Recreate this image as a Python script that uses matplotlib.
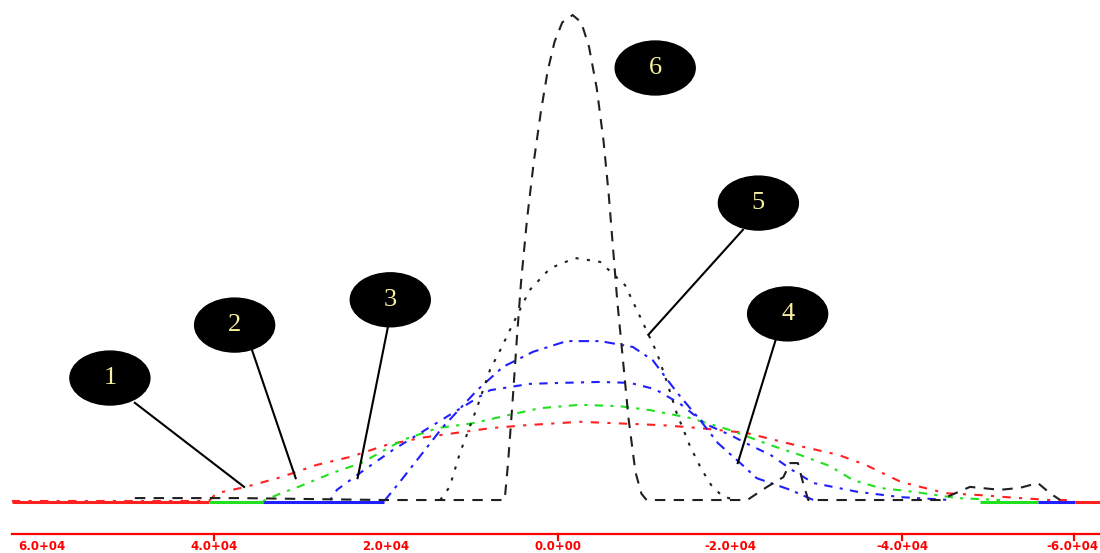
import matplotlib
matplotlib.use('Agg')
import matplotlib.pyplot as plt
from matplotlib.patches import Ellipse

# curve 1 (red)
x1 = [6.35, 4.06, 3.97, 3.63, 3.22, 2.81, 2.41, 2.00, 1.59, 1.19, 0.78, 0.37, -0.26,
      -1.21, -1.65, -2.19, -2.76, -3.26, -3.58, -3.99, -4.51, -4.92, -5.21, -5.72, -5.99]
y1 = [0, 0, 1.6, 2.9, 4.9, 7.4, 9.1, 11.5, 13.0, 14.0, 15.0, 15.6, 16.3,
      15.6, 15.0, 14.0, 11.5, 9.5, 7.4, 3.9, 1.6, 1.2, 0.8, 0.2, 0.2]

# curve 2 (green)
x2 = [3.43, 3.22, 3.02, 2.62, 2.29, 1.80, 1.40, 0.99, 0.57, 0.21, -0.26, -0.72,
      -1.07, -1.53, -2.00, -2.47, -2.81, -3.16, -3.43, -3.74, -4.13, -4.64, -5.14]
y2 = [0, 1.6, 2.9, 5.8, 7.8, 12.6, 15.0, 16.0, 17.7, 19.1, 19.8, 19.5,
      18.7, 17.1, 14.6, 11.5, 9.5, 7.2, 4.3, 2.7, 1.9, 0.6, 0.2]

# curve 3 (blue, lower)
x3 = [2.65, 2.57, 2.30, 1.92, 1.60, 1.26, 0.79, 0.33, -0.02, -0.49, -0.84, -1.13,
      -1.42, -1.72, -2.00, -2.23, -2.47, -2.72, -2.97, -3.48, -3.98, -4.56]
y3 = [0.2, 2.3, 5.8, 10.5, 14.0, 17.7, 22.8, 24.1, 24.3, 24.5, 24.3, 23.0,
      20.0, 15.8, 13.6, 11.5, 9.5, 6.4, 3.7, 1.9, 0.8, 0.2]

# curve 4 (blue, higher)
x4 = [2.02, 1.84, 1.64, 1.34, 0.94, 0.64, 0.29, -0.10, -0.49, -0.87, -1.10, -1.38,
      -1.65, -1.86, -2.12, -2.31, -2.70, -2.97]
y4 = [0, 3.9, 8.4, 15.2, 22.8, 27.6, 30.7, 32.9, 32.9, 31.7, 29.0, 22.4,
      16.7, 11.9, 7.8, 4.7, 2.3, 0.2]

# curve 5 (black dotted)
x5 = [1.37, 1.26, 1.14, 0.94, 0.79, 0.67, 0.52, 0.33, 0.09, -0.20, -0.49, -0.78,
      -0.99, -1.15, -1.27, -1.38, -1.53, -1.66, -1.78, -1.91, -2.06]
y5 = [0.2, 2.9, 9.9, 19.3, 27.0, 31.1, 36.6, 43.4, 47.9, 50.0, 49.2, 44.4,
      36.6, 30.5, 24.3, 18.1, 11.5, 6.8, 3.3, 1.0, 0.2]

# curve 6 (black dashed, tall)
x6 = [4.92, 3.70, 2.01, 0.67, 0.62, 0.58, 0.53, 0.48, 0.43, 0.36, 0.28, 0.20, 0.12,
      0.04, -0.05, -0.17, -0.27, -0.36, -0.45, -0.53, -0.59, -0.64, -0.69, -0.75,
      -0.82, -0.90, -0.97, -1.03, -1.53,
      -2.20, -2.43, -2.62, -2.70, -2.79, -2.85, -2.91, -4.44, -4.79, -5.14, -5.37,
      -5.58, -5.72, -5.84]
y6 = [0.6, 0.6, 0.2, 0.2, 0.2, 8.0, 20.0, 33.0, 45.0, 58.0, 70.0, 80.0, 88.5,
      94.5, 98.5, 100, 98.5, 93.5, 85.0, 74.0, 63.0, 52.0, 41.0, 30.0,
      17.0, 6.0, 1.5, 0.2, 0.2,
      0.2, 2.9, 4.9, 7.8, 7.8, 3.7, 0.2, 0.2, 2.9, 2.3, 2.7,
      3.7, 1.6, 0.2]

# solid baseline pieces (edges, colours)
base_x = [6.35, 4.06, 3.43, 2.02]
base_c = ['#ff2020', '#20e020', '#2020ff']
base_x_r = [-4.91, -5.58, -6.01, -6.30]
base_c_r = ['#20e020', '#2020ff', '#ff2020']

# callouts: number, centre x, centre y, leader from, leader to
labels = ['1', '2', '3', '4', '5', '6']
lab_x = [5.21, 3.76, 1.95, -2.67, -2.33, -1.13]
lab_y = [25.3, 36.2, 41.4, 38.5, 61.3, 89.1]
lead_x0 = [4.92, 3.57, 1.98, -2.53, -2.15, None]
lead_y0 = [20.2, 31.7, 35.6, 33.1, 55.8, None]
lead_x1 = [3.65, 3.05, 2.33, -2.09, -1.05, None]
lead_y1 = [2.9, 4.7, 4.7, 7.8, 34.2, None]

tick_pos = [4, 0, -4, -6]
lab_pos = [6, 4, 2, 0, -2, -4, -6]
tick_txt = ['6.0+04', '4.0+04', '2.0+04', '0.0+00', '-2.0+04', '-4.0+04', '-6.0+04']

fig = plt.figure(figsize=(11, 5.53), dpi=100)
ax = fig.add_axes([0, 0, 1, 1])
ax.set_xlim(6.488, -6.302)
ax.set_ylim(-10.70, 103.09)
ax.axis('off')

for i in range(len(base_c)):
    ax.plot(base_x[i:i + 2], [-0.2, -0.2], color=base_c[i], lw=2.2, solid_capstyle='butt')
    ax.plot(base_x_r[i:i + 2], [-0.2, -0.2], color=base_c_r[i], lw=2.2, solid_capstyle='butt')

ax.plot(x1, y1, color='#ff2020', lw=1.5, ls=(0, (4, 4, 1.5, 4)))
ax.plot(x2, y2, color='#20e020', lw=1.5, ls=(0, (1.5, 3.5, 4, 3.5)))
ax.plot(x3, y3, color='#2020ff', lw=1.5, ls=(0, (1.5, 3.5, 4, 3.5)))
ax.plot(x4, y4, color='#2020ff', lw=1.5, ls=(0, (5, 3, 1.5, 3)))
ax.plot(x5, y5, color='#202020', lw=1.5, ls=(0, (1.5, 4)))
ax.plot(x6, y6, color='#202020', lw=1.5, ls=(0, (5, 4)))

for i in range(len(labels)):
    if lead_x0[i] is not None:
        ax.plot([lead_x0[i], lead_x1[i]], [lead_y0[i], lead_y1[i]], color='black', lw=1.5)
    ax.add_patch(Ellipse((lab_x[i], lab_y[i]), 0.93, 11.1, facecolor='black',
                         edgecolor='black', zorder=5))
    ax.text(lab_x[i], lab_y[i], labels[i], color='#f8f0a0', fontsize=19,
            family='Liberation Serif', ha='center', va='center', zorder=6)

# red axis at the bottom
ax.plot([6.35, -6.302], [-6.8, -6.8], color='red', lw=1.6)
for t in tick_pos:
    ax.plot([t, t], [-6.8, -8.0], color='red', lw=1.6)
for p, s in zip(lab_pos, tick_txt):
    ha = 'center'
    if p == lab_pos[-1]:
        ha = 'right'
        p = -6.29
    ax.text(p, -8.1, s, color='red', fontsize=8.5, fontweight='bold', ha=ha, va='top')

fig.savefig('out.png', dpi=100)
